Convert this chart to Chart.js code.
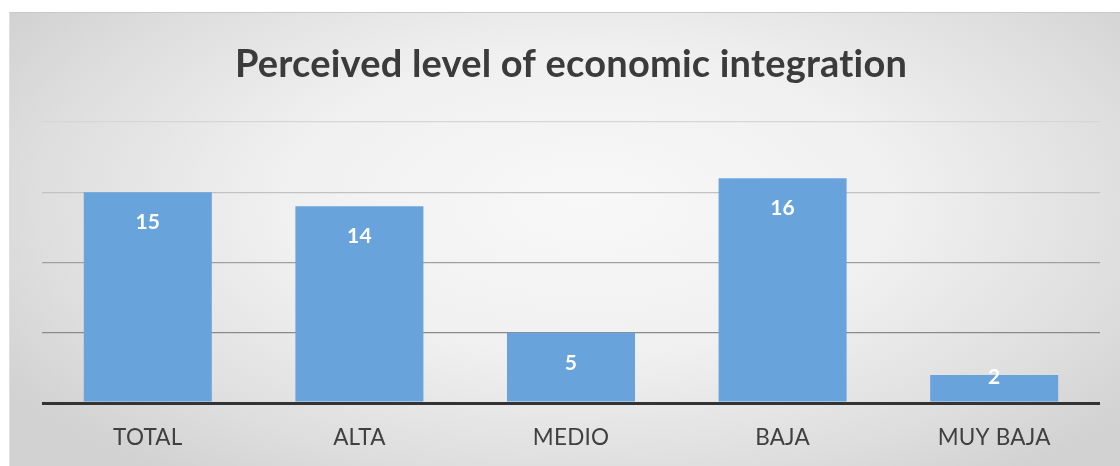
<!DOCTYPE html>
<html>
<head>
<meta charset="utf-8">
<script src="https://cdn.jsdelivr.net/npm/chart.js@4.4.1/dist/chart.umd.min.js"></script>
<style>
  html, body { margin: 0; padding: 0; background: #ffffff; }
  body { width: 1120px; height: 466px; position: relative; overflow: hidden; }
  #panel {
    position: absolute; left: 9px; top: 12px; right: 0; bottom: 0;
    border-top: 1px solid #c9c9c9;
    border-left: 1px solid #e0e0e0;
    background: radial-gradient(ellipse 62% 75% at 52% 42%, #f8f8f8 0%, #f0f0f0 45%, #dedede 80%, #d2d2d2 100%);
  }
  #wrap { position: absolute; left: 0; top: 0; width: 1120px; height: 466px; }
</style>
</head>
<body>
<div id="panel"></div>
<div id="wrap"><canvas id="chart" width="1120" height="466"></canvas></div>
<script>
// Perceived level of economic integration, by group
const categories = ['TOTAL', 'ALTA', 'MEDIO', 'BAJA', 'MUY BAJA'];
const values = [15, 14, 5, 16, 2];
const yTicks = [0, 5, 10, 15, 20];

const barBlue = '#69a3dc';
const gridColors = ['#333333', '#8a8a8a', '#a0a0a0', '#c2c2c2', '#d6d6d6'];

// Keep "ti" and similar pairs as separate letters
const plainLetters = {
  id: 'plainLetters',
  beforeDraw(chart) {
    if ('letterSpacing' in chart.ctx) chart.ctx.letterSpacing = '0.2px';
  }
};

// White value labels near the top of each bar
const valueLabels = {
  id: 'valueLabels',
  afterDatasetsDraw(chart) {
    const ctx = chart.ctx;
    const meta = chart.getDatasetMeta(0);
    const ds = chart.data.datasets[0];
    ctx.save();
    ctx.fillStyle = '#ffffff';
    ctx.font = 'bold 21px Lato';
    ctx.textAlign = 'center';
    ctx.textBaseline = 'middle';
    meta.data.forEach((bar, i) => {
      const h = bar.base - bar.y;
      const y = h > 45 ? bar.y + 30 : bar.y + 2;
      ctx.fillText(String(ds.data[i]), bar.x, y);
    });
    ctx.restore();
  }
};

Chart.defaults.font.family = 'Lato';

new Chart(document.getElementById('chart'), {
  type: 'bar',
  data: {
    labels: categories,
    datasets: [{
      data: values,
      backgroundColor: barBlue,
      borderWidth: 0,
      barPercentage: 1,
      categoryPercentage: 0.605
    }]
  },
  options: {
    responsive: false,
    animation: false,
    events: [],
    layout: { padding: { left: 42, right: 20, top: 0, bottom: 0 } },
    plugins: {
      legend: { display: false },
      tooltip: { enabled: false },
      title: {
        display: true,
        text: 'Perceived level of economic integration',
        color: '#3b3b3b',
        font: { family: 'Lato', size: 38, weight: 'bold', lineHeight: 1.2 },
        padding: { top: 42, bottom: 34.4 }
      }
    },
    scales: {
      x: {
        grid: { display: false, drawTicks: false },
        border: { display: false },
        ticks: {
          color: '#404040',
          font: { family: 'Lato', size: 22.5 },
          padding: 21
        },
        afterFit(scale) { scale.height = 63; }
      },
      y: {
        min: 0,
        max: 20,
        afterBuildTicks(scale) { scale.ticks = yTicks.map(v => ({ value: v })); },
        ticks: { display: false },
        border: { display: false },
        grid: {
          drawTicks: false,
          color: ctx => gridColors[ctx.index] || '#c0c0c0',
          lineWidth: ctx => (ctx.index === 0 ? 3 : 1.2)
        },
        afterFit(scale) { scale.width = 0; }
      }
    }
  },
  plugins: [plainLetters, valueLabels]
});
</script>
</body>
</html>
